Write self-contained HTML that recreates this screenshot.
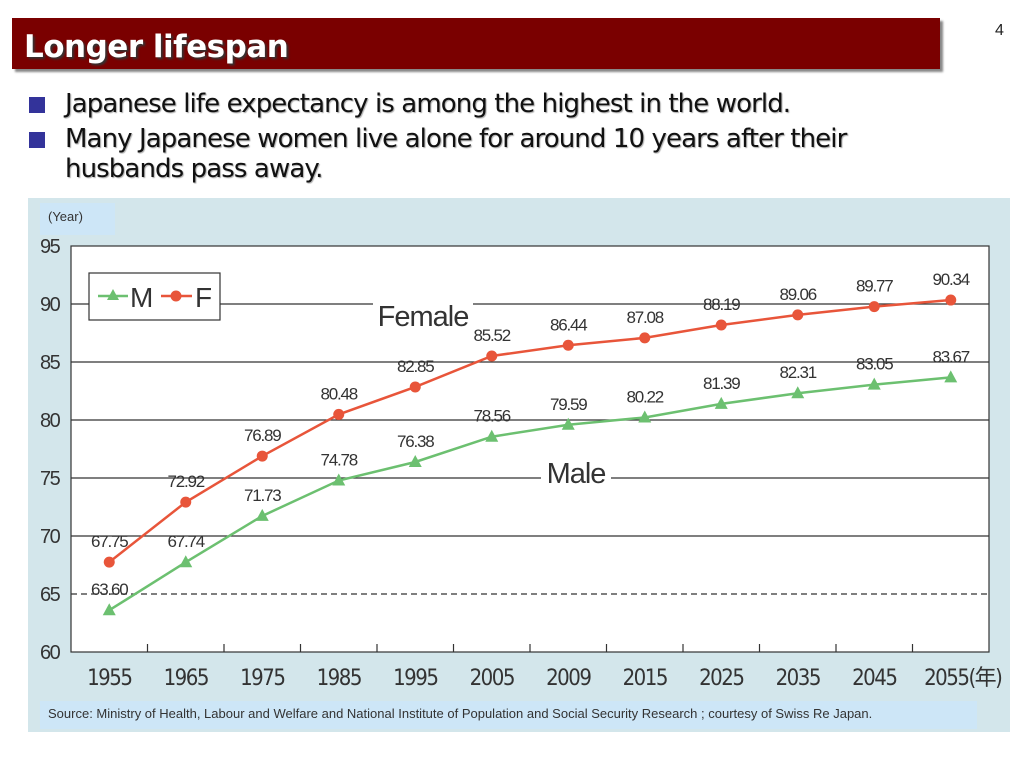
<!DOCTYPE html>
<html><head><meta charset="utf-8">
<style>
body{margin:0;width:1024px;height:768px;background:#fff;position:relative;overflow:hidden;font-family:"Liberation Sans",Tahoma,sans-serif}
.title{position:absolute;left:12px;top:18px;width:928px;height:51px;background:#7a0000;box-shadow:3px 3px 2px #888}
.title span{position:absolute;left:12px;top:11px;font:bold 31px "DejaVu Sans","Liberation Sans",sans-serif;color:#fff;text-shadow:2px 2px 2px #333;letter-spacing:-0.5px}
.pnum{position:absolute;left:995px;top:22px;font-size:16px;color:#222}
.bul{position:absolute;left:65px;font:26px "DejaVu Sans","Liberation Sans",sans-serif;color:#111;text-shadow:1px 1px 1px #aaa;letter-spacing:-0.9px;line-height:30px}
.sq{position:absolute;left:29px;width:16px;height:16px;background:#33339a}
</style></head><body>
<div class="title"><span>Longer lifespan</span></div>
<div class="pnum">4</div>
<div class="sq" style="top:97px"></div>
<div class="bul" style="top:89px">Japanese life expectancy is among the highest in the world.</div>
<div class="sq" style="top:132px"></div>
<div class="bul" style="top:124px">Many Japanese women live alone for around 10 years after their<br>husbands pass away.</div>
<svg id="chart" width="1024" height="768" style="position:absolute;left:0;top:0"></svg>
<script>
const categories=["1955","1965","1975","1985","1995","2005","2009","2015","2025","2035","2045","2055(年)"];
const maleValues=[63.60,67.74,71.73,74.78,76.38,78.56,79.59,80.22,81.39,82.31,83.05,83.67];
const femaleValues=[67.75,72.92,76.89,80.48,82.85,85.52,86.44,87.08,88.19,89.06,89.77,90.34];
const maleLabels=["63.60","67.74","71.73","74.78","76.38","78.56","79.59","80.22","81.39","82.31","83.05","83.67"];
const femaleLabels=["67.75","72.92","76.89","80.48","82.85","85.52","86.44","87.08","88.19","89.06","89.77","90.34"];
const yTicks=[60,65,70,75,80,85,90,95];
const NS="http://www.w3.org/2000/svg";
const svg=document.getElementById('chart');
const L=71,R=989,T=246,B=652,yMin=60,yMax=95;
const band=(R-L)/categories.length;
const x=i=>L+band*(i+0.5);
const y=v=>B-(v-yMin)/(yMax-yMin)*(B-T);
function mk(tag,attrs,parent){const e=document.createElementNS(NS,tag);for(const k in attrs)e.setAttribute(k,attrs[k]);(parent||svg).appendChild(e);return e;}
let e;
e=mk('rect',{x:28,y:198,width:982,height:534,fill:'#d3e6eb'});


e=mk('rect',{x:40,y:203,width:75,height:32,fill:'#cde6f7'});


e=mk('text',{x:48,y:221,'font-size':13,fill:'#333','font-family':'Liberation Sans'});e.textContent='(Year)';


e=mk('rect',{x:L,y:T,width:R-L,height:B-T,fill:'#fff',stroke:'#333','stroke-width':1.2});


yTicks.forEach(v=>{
  if(v>yMin&&v<yMax){
    e=mk('line',{x1:L,x2:R,y1:y(v),y2:y(v),stroke:'#333','stroke-width':1.2,'stroke-dasharray':v===65?'6,4':''});
    
    
  }
  e=mk('text',{x:40,y:y(v)+7,'font-size':20,fill:'#333','font-family':'Liberation Sans','letter-spacing':-1.5});e.textContent=v;
  
  
});
categories.forEach((c,i)=>{
  if(i>0){e=mk('line',{x1:L+band*i,x2:L+band*i,y1:B,y2:B-8,stroke:'#333','stroke-width':1.2});
  
  }
  e=mk('text',{x:x(i)+(i===11?12:0),y:685,'font-size':22,fill:'#333','text-anchor':'middle','font-family':'DejaVu Sans Condensed, Liberation Sans','letter-spacing':-1.5});e.textContent=c;
  
  
});
function tag(txt,cx,cy,w,name){
  e=mk('rect',{x:cx-w/2,y:cy-24,width:w,height:30,fill:'#fff'});
  
  
  e=mk('text',{x:cx,y:cy,'font-size':29,fill:'#333','text-anchor':'middle','font-family':'Liberation Sans','letter-spacing':-1});e.textContent=txt;
  
  
}
tag('Female',423,326,100,'female-series-label');
tag('Male',576,483,70,'male-series-label');
function series(vals,labels,color,kind,name){
  e=mk('polyline',{points:vals.map((v,i)=>x(i)+','+y(v)).join(' '),fill:'none',stroke:color,'stroke-width':2.5});
  
  
  vals.forEach((v,i)=>{
    if(kind==='c'){e=mk('circle',{cx:x(i),cy:y(v),r:5.5,fill:color});}
    else{const px=x(i),py=y(v);e=mk('polygon',{points:`${px},${py-7} ${px-6.5},${py+5} ${px+6.5},${py+5}`,fill:color});}
    
    
    e=mk('text',{x:x(i),y:y(v)-15,'font-size':17,fill:'#333','text-anchor':'middle','font-family':'Liberation Sans','letter-spacing':-1.2});e.textContent=labels[i];
    
    
  });
}
series(femaleValues,femaleLabels,'#e8553a','c','female');
series(maleValues,maleLabels,'#6cc070','t','male');
const lg=mk('g',{});


mk('rect',{x:89,y:273,width:131,height:47,fill:'#fff',stroke:'#333','stroke-width':1.2},lg);
mk('line',{x1:98,x2:128,y1:296,y2:296,stroke:'#6cc070','stroke-width':2.5},lg);
mk('polygon',{points:'113,289 107,300 119,300',fill:'#6cc070'},lg);
e=mk('text',{x:130,y:307,'font-size':28,fill:'#333','font-family':'Liberation Sans'},lg);e.textContent='M';


mk('line',{x1:161,x2:192,y1:296,y2:296,stroke:'#e8553a','stroke-width':2.5},lg);
mk('circle',{cx:176,cy:296,r:5.5,fill:'#e8553a'},lg);
e=mk('text',{x:195,y:307,'font-size':28,fill:'#333','font-family':'Liberation Sans'},lg);e.textContent='F';


e=mk('rect',{x:40,y:701,width:937,height:28,fill:'#cde6f7'});


e=mk('text',{x:48,y:718,'font-size':13,fill:'#333','font-family':'Liberation Sans'});e.textContent='Source: Ministry of Health, Labour and Welfare and National Institute of Population and Social Security Research ; courtesy of Swiss Re Japan.';


</script>
</body></html>
